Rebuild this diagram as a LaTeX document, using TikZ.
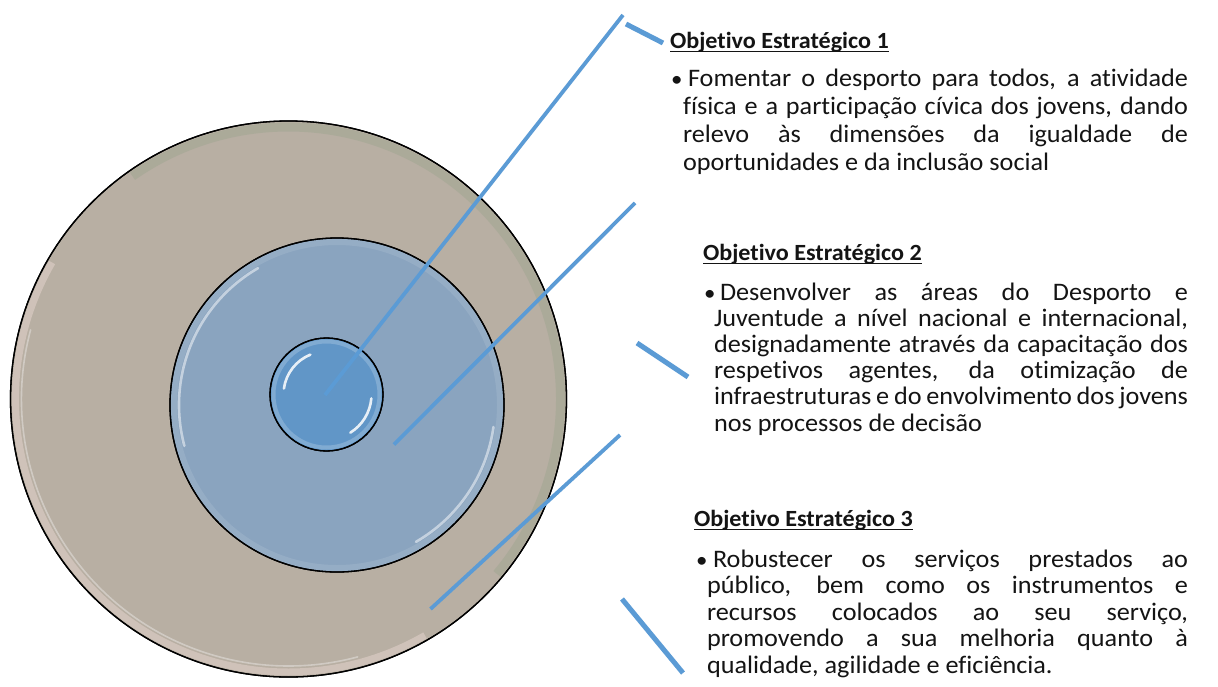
\documentclass[tikz,border=0pt]{standalone}
\usepackage{fontspec}
\setmainfont{Carlito}[FakeStretch=1.04,Ligatures=NoCommon]
\usetikzlibrary{calc}
\definecolor{lineblue}{RGB}{91,155,213}
\definecolor{outerfill}{RGB}{184,175,163}
\definecolor{rimgreen}{RGB}{166,168,150}
\definecolor{rimpink}{RGB}{236,218,212}
\definecolor{midfill}{RGB}{138,164,191}
\definecolor{innfill}{RGB}{97,150,199}
\definecolor{textcol}{RGB}{20,20,20}
\begin{document}
\begin{tikzpicture}[x=1pt,y=-1pt,
  every node/.style={inner sep=0pt,outer sep=0pt},
  ring/.style={circle,draw=black,line width=1.3pt},
  txt/.style={anchor=base west,text=textcol,font=\fontsize{25.2pt}{28pt}\selectfont},
  bul/.style={anchor=base west,text=textcol,font=\fontsize{22pt}{22pt}\selectfont},
  head/.style={anchor=base west,text=textcol,font=\fontsize{23.2pt}{27pt}\selectfont\bfseries},
  uline/.style={draw=textcol,line width=1.4pt},
  longline/.style={draw=lineblue,line width=3.8pt},
  shortline/.style={draw=lineblue,line width=5pt},
  shine/.style={white,line cap=round}]
\useasboundingbox[fill=white] (0,0) rectangle (1218,686);

% ---- circles ----
\node[ring,minimum size=556pt,fill=outerfill] (outer) at (288.5,399) {};
\draw[rimgreen,line width=9pt,opacity=.7] (outer.center) ++(-40:272pt) arc[start angle=-40,end angle=125,radius=272pt];
\draw[rimpink,line width=7pt,opacity=.45] (outer.center) ++(150:273pt) arc[start angle=150,end angle=300,radius=273pt];
\draw[shine,opacity=.35,line width=1.6pt] (outer.center) ++(165:267pt) arc[start angle=165,end angle=285,radius=267pt];
\draw[line width=1.3pt] (outer.center) circle[radius=278pt];

\node[ring,minimum size=334pt,fill=midfill] (mid) at (337,405) {};
\draw[white,opacity=.10,line width=6pt] (mid.center) circle[radius=163pt];
\draw[shine,opacity=.5,line width=2.6pt] (mid.center) ++(120:158pt) arc[start angle=120,end angle=195,radius=158pt];
\draw[shine,opacity=.5,line width=2.6pt] (mid.center) ++(-60:158pt) arc[start angle=-60,end angle=-8,radius=158pt];
\draw[line width=1.3pt] (mid.center) circle[radius=167pt];

\node[ring,minimum size=113pt,fill=innfill] (inn) at (326.5,394.5) {};
\draw[white,opacity=.2,line width=4pt] (inn.center) circle[radius=53pt];
\draw[shine,opacity=.85,line width=2.6pt] (inn.center) ++(112:43pt) arc[start angle=112,end angle=172,radius=43pt];
\draw[shine,opacity=.85,line width=2.6pt] (inn.center) ++(-58:45pt) arc[start angle=-58,end angle=-5,radius=45pt];
\draw[line width=1.3pt] (inn.center) circle[radius=56.5pt];

% ---- connector segments ----
\coordinate (c1a) at (325,395);   \coordinate (c1b) at (623,15);
\coordinate (s1a) at (626,24);    \coordinate (s1b) at (663,43);
\coordinate (c2a) at (394,444.5); \coordinate (c2b) at (635,203);
\coordinate (s2a) at (637,343);   \coordinate (s2b) at (688,377);
\coordinate (c3a) at (430.5,609); \coordinate (c3b) at (620,435);
\coordinate (s3a) at (622,599);   \coordinate (s3b) at (683,673);
\draw[longline] (c1a) -- (c1b);
\draw[shortline] (s1a) -- (s1b);
\draw[longline] (c2a) -- (c2b);
\draw[shortline] (s2a) -- (s2b);
\draw[longline] (c3a) -- (c3b);
\draw[shortline] (s3a) -- (s3b);

% ---- block 1 ----
\node[head] (h1) at (670,48) {Objetivo Estratégico 1};
\draw[uline] ($(h1.base west)+(0,3.5)$) -- ($(h1.base east)+(0,3.5)$);
\node[bul] (b1) at (671,86) {•};
\node[txt] (t11) at (688,86) {\makebox[500pt][s]{Fomentar o desporto para todos, a atividade}};
\node[txt] (t12) at (683,114) {\makebox[505pt][s]{física e a participação cívica dos jovens, dando}};
\node[txt] (t13) at (683,142) {\makebox[505pt][s]{relevo às dimensões da igualdade de}};
\node[txt] (t14) at (683,170) {oportunidades e da inclusão social};

% ---- block 2 ----
\node[head] (h2) at (703,260) {Objetivo Estratégico 2};
\draw[uline] ($(h2.base west)+(0,3.5)$) -- ($(h2.base east)+(0,3.5)$);
\node[bul] (b2) at (704,300) {•};
\node[txt] (t21) at (720,300) {\makebox[468pt][s]{Desenvolver as áreas do Desporto e}};
\node[txt] (t22) at (714,326.2) {\makebox[474pt][s]{Juventude a nível nacional e internacional,}};
\node[txt] (t23) at (714,352.4) {\makebox[474pt][s]{designadamente através da capacitação dos}};
\node[txt] (t24) at (714,378.6) {\makebox[474pt][s]{respetivos agentes, da otimização de}};
\node[txt] (t25) at (714,404.8) {\makebox[474pt][s]{infraestruturas e do envolvimento dos jovens}};
\node[txt] (t26) at (714,431) {nos processos de decisão};

% ---- block 3 ----
\node[head] (h3) at (694,526) {Objetivo Estratégico 3};
\draw[uline] ($(h3.base west)+(0,3.5)$) -- ($(h3.base east)+(0,3.5)$);
\node[bul] (b3) at (696,567) {•};
\node[txt] (t31) at (713,567) {\makebox[475pt][s]{Robustecer os serviços prestados ao}};
\node[txt] (t32) at (707,593.5) {\makebox[481pt][s]{público, bem como os instrumentos e}};
\node[txt] (t33) at (707,620) {\makebox[481pt][s]{recursos colocados ao seu serviço,}};
\node[txt] (t34) at (707,646.5) {\makebox[481pt][s]{promovendo a sua melhoria quanto à}};
\node[txt] (t35) at (707,673) {qualidade, agilidade e eficiência.};
\end{tikzpicture}
\end{document}
